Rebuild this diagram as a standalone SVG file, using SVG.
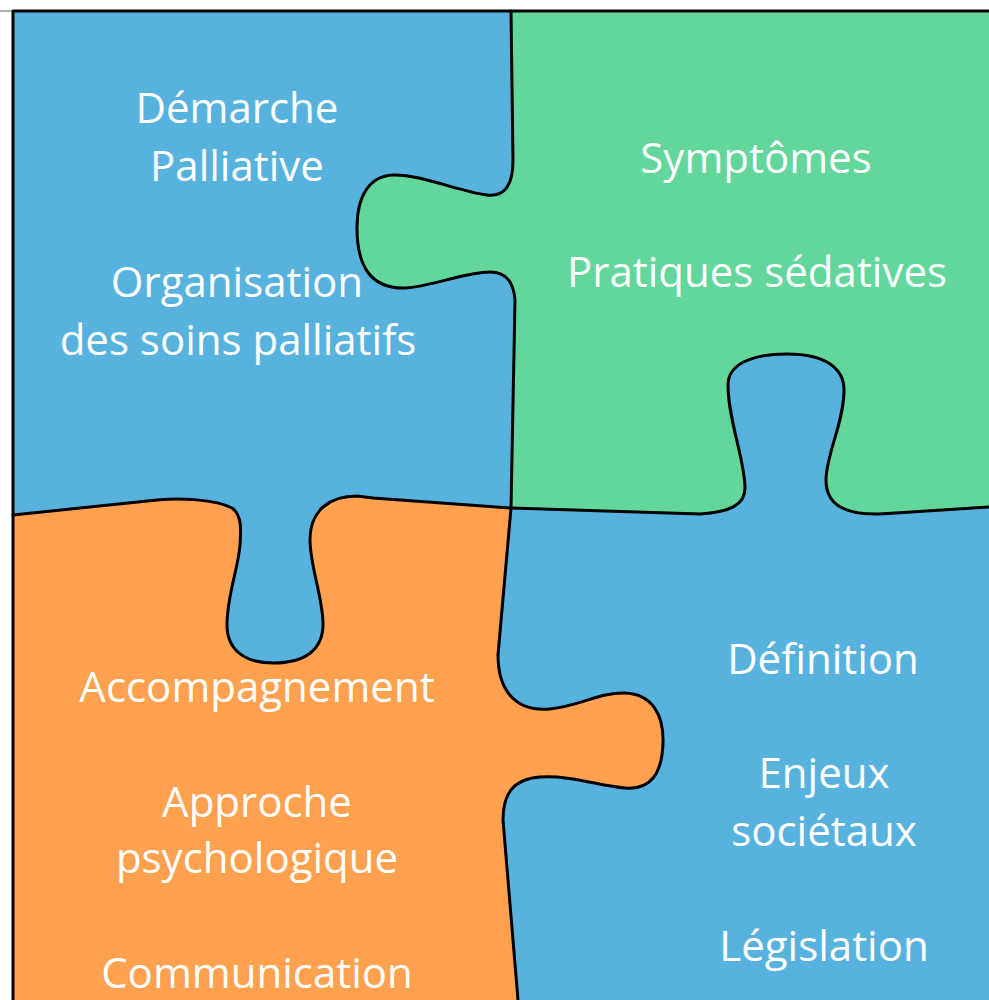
<svg xmlns="http://www.w3.org/2000/svg" width="989" height="1000" viewBox="0 0 989 1000">
<style>
.lbl{font-family:"Open Sans","DejaVu Sans",sans-serif;font-size:42px;fill:#ffffff;text-anchor:middle}
.edge{fill:none;stroke:#000;stroke-width:3;stroke-linejoin:round;stroke-linecap:round}
</style>
<rect x="0" y="0" width="989" height="1000" fill="#ffffff"/>
<line x1="0" y1="11" x2="13" y2="11" stroke="#b0b0b0" stroke-width="2"/>
<g id="piece-top-left">
<rect x="13" y="11" width="976" height="989" fill="#57B3DD"/>
</g>
<g id="piece-top-right">
<path fill="#62D69B" d="M511,11 L513,160 C513,185 505,197 487,195 C460,192 420,174 393,175 C370,176 357,195 357,228 C357,265 370,289 405,288 C430,287 465,272 490,272 C508,272 514,285 515,300 L511,508 L700,514 C730,512 745,505 745,488 C745,460 728,420 728,385 C728,365 750,354 787,354 C825,354 845,368 844,392 C843,425 826,455 826,480 C826,505 845,515 880,514 L989,507 L989,11 Z"/>
</g>
<g id="piece-bottom-left">
<path fill="#FFA14E" d="M13,515 L157,500 C180,498 215,499 232,508 C242,515 241,530 240,545 C238,570 227,595 227,625 C227,650 245,663 273,663 C305,663 324,650 323,622 C322,595 310,565 310,540 C310,510 330,496 357,496 L373,498 L511,508 L498,655 C498,690 515,712 550,709 C580,706 600,692 625,693 C652,694 664,715 663,743 C662,772 652,790 625,788 C600,786 570,775 540,777 C512,779 503,795 503,820 L518,1000 L13,1000 Z"/>
</g>
<g id="piece-bottom-right"></g>
<g id="connectors">
<path class="edge" d="M13,1000 L13,11 L989,11"/>
<path class="edge" d="M511,11 L513,160 C513,185 505,197 487,195 C460,192 420,174 393,175 C370,176 357,195 357,228 C357,265 370,289 405,288 C430,287 465,272 490,272 C508,272 514,285 515,300 L511,508"/>
<path class="edge" d="M511,508 L700,514 C730,512 745,505 745,488 C745,460 728,420 728,385 C728,365 750,354 787,354 C825,354 845,368 844,392 C843,425 826,455 826,480 C826,505 845,515 880,514 L989,507"/>
<path class="edge" d="M13,515 L157,500 C180,498 215,499 232,508 C242,515 241,530 240,545 C238,570 227,595 227,625 C227,650 245,663 273,663 C305,663 324,650 323,622 C322,595 310,565 310,540 C310,510 330,496 357,496 L373,498 L511,508"/>
<path class="edge" d="M511,508 L498,655 C498,690 515,712 550,709 C580,706 600,692 625,693 C652,694 664,715 663,743 C662,772 652,790 625,788 C600,786 570,775 540,777 C512,779 503,795 503,820 L518,1000"/>
</g>
<g id="text-top-left">
<text class="lbl" x="237" y="123">Démarche</text>
<text class="lbl" x="237" y="181">Palliative</text>
<text class="lbl" x="237" y="297">Organisation</text>
<text class="lbl" x="238" y="355">des soins palliatifs</text>
</g>
<g id="text-top-right">
<text class="lbl" x="756" y="173">Symptômes</text>
<text class="lbl" x="757" y="287">Pratiques sédatives</text>
</g>
<g id="text-bottom-left">
<text class="lbl" x="257" y="702">Accompagnement</text>
<text class="lbl" x="257" y="817">Approche</text>
<text class="lbl" x="257" y="873">psychologique</text>
<text class="lbl" x="257" y="988">Communication</text>
</g>
<g id="text-bottom-right">
<text class="lbl" x="823" y="674">Définition</text>
<text class="lbl" x="824" y="788">Enjeux</text>
<text class="lbl" x="824" y="846">sociétaux</text>
<text class="lbl" x="824" y="961">Législation</text>
</g>
</svg>
